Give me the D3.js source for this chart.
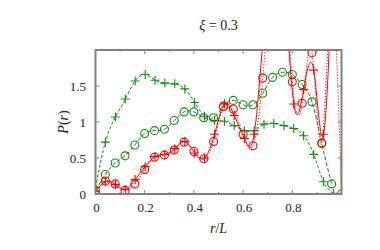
<!DOCTYPE html>
<html><head><meta charset="utf-8">
<script src="https://cdn.jsdelivr.net/npm/d3@7"></script>
<style>body{margin:0;background:#fff}svg{display:block}</style>
</head><body>
<script>
const rCircle = [0,0.04,0.08,0.12,0.16,0.2,0.24,0.28,0.32,0.36,0.4,0.44,0.48,0.52,0.56,0.6,0.64,0.68,0.72,0.76,0.8,0.84,0.88,0.92,0.96,1.0];
const rPlus = [0,0.040,0.081,0.121,0.161,0.202,0.242,0.282,0.322,0.363,0.403,0.443,0.484,0.524,0.564,0.605,0.645,0.685,0.725,0.766,0.806,0.846,0.887,0.927,0.967];
const greenCircle = [0.05,0.27,0.43,0.53,0.68,0.84,0.88,0.90,1.02,1.14,1.14,1.06,1.06,1.22,1.30,1.24,1.24,1.40,1.62,1.69,1.66,1.52,1.28,0.70,0.14];
const greenPlus = [0.09,0.72,1.07,1.32,1.57,1.66,1.58,1.54,1.53,1.46,1.27,1.08,1.02,1.01,0.95,0.88,0.88,0.97,0.98,0.95,0.91,0.81,0.55,0.17,0.01];
const redCircle = [0,0.18,0.14,0.05,0.14,0.34,0.51,0.54,0.61,0.72,0.59,0.49,0.73,1.21,1.18,0.83,0.67,1.61,3.2,3.4,1.56,1.26,1.96,0.71,2.7,0];
const redPlus = [0.04,0.17,0.13,0.06,0.20,0.38,0.52,0.55,0.63,0.73,0.57,0.50,0.83,1.25,1.09,0.77,0.83,2.3,3.3,2.9,1.25,1.45,1.72,0.83,3.5];
const xTickLabels = ["0","0.2","0.4","0.6","0.8"];
const yTickLabels = ["0","0.5","1","1.5"];

const W = 380, H = 250;
const m = {left: 95.5, top: 50, right: 38.5, bottom: 56};
const green = "#118a11", red = "#ff0000", frame = "#808080";
const serif = "Liberation Serif, Times New Roman, DejaVu Serif, serif";

const svg = d3.select("body").append("svg").attr("width", W).attr("height", H)
  .attr("font-family", serif);
const x = d3.scaleLinear().domain([0, 1]).range([m.left, W - m.right]);
const y = d3.scaleLinear().domain([0, 2]).range([H - m.bottom, m.top]);

svg.append("defs").append("clipPath").attr("id", "clip")
  .append("rect").attr("x", m.left).attr("y", m.top)
  .attr("width", x(1) - x(0)).attr("height", y(0) - y(2));

// ticks
const tickG = svg.append("g").attr("stroke", frame).attr("stroke-width", 1);
const xMinor = d3.range(1, 10).map(i => i / 10);
xMinor.forEach(v => {
  const major = Math.abs(v * 5 - Math.round(v * 5)) < 1e-6;
  const len = major ? 4 : 2;
  tickG.append("line").attr("x1", x(v)).attr("x2", x(v)).attr("y1", y(0)).attr("y2", y(0) - len);
  tickG.append("line").attr("x1", x(v)).attr("x2", x(v)).attr("y1", y(2)).attr("y2", y(2) + len);
});
[0.5, 1, 1.5].forEach(v => {
  tickG.append("line").attr("x1", x(0)).attr("x2", x(0) + 4).attr("y1", y(v)).attr("y2", y(v));
  tickG.append("line").attr("x1", x(1)).attr("x2", x(1) - 4).attr("y1", y(v)).attr("y2", y(v));
});

// tick labels
const xTicks = [0, 0.2, 0.4, 0.6, 0.8];
svg.append("g").selectAll("text").data(xTicks).join("text")
  .attr("x", d => x(d) + 1).attr("y", 212)
  .attr("text-anchor", "middle").attr("font-size", 13).attr("fill", "#222")
  .text((d, i) => xTickLabels[i]);
const yTicks = [0, 0.5, 1, 1.5];
svg.append("g").selectAll("text").data(yTicks).join("text")
  .attr("x", 86).attr("y", d => y(d) + 4.5)
  .attr("text-anchor", "end").attr("font-size", 13).attr("fill", "#222")
  .text((d, i) => yTickLabels[i]);

// series
const plot = svg.append("g").attr("clip-path", "url(#clip)");
function drawSeries(rs, vs, color, dash, marker) {
  const pts = rs.map((r, i) => [r, vs[i]]);
  const line = d3.line().x(d => x(d[0])).y(d => y(d[1])).curve(d3.curveNatural);
  plot.append("path").attr("d", line(pts)).attr("fill", "none")
    .attr("stroke", color).attr("stroke-width", 1)
    .attr("stroke-dasharray", dash);
  const g = plot.append("g").attr("stroke", color).attr("fill", "none").attr("stroke-width", 1.1);
  pts.forEach(d => {
    const cx = x(d[0]), cy = y(d[1]);
    if (marker === "circle") {
      g.append("circle").attr("cx", cx).attr("cy", cy).attr("r", 4);
    } else {
      g.append("path").attr("d", `M${cx-4.5},${cy}H${cx+4.5}M${cx},${cy-4.5}V${cy+4.5}`);
    }
  });
}
drawSeries(rCircle.slice(0, greenCircle.length), greenCircle, green, "4,2", "circle");
drawSeries(rPlus, greenPlus, green, "3,2", "plus");
drawSeries(rCircle, redCircle, red, "1.2,1.8", "circle");
drawSeries(rPlus, redPlus, red, null, "plus");

// frame
svg.append("rect").attr("x", x(0)).attr("y", y(2))
  .attr("width", x(1) - x(0)).attr("height", y(0) - y(2))
  .attr("fill", "none").attr("stroke", frame).attr("stroke-width", 2);

// labels
svg.append("text").attr("x", (x(0) + x(1)) / 2).attr("y", 30)
  .attr("text-anchor", "middle").attr("font-size", 14).attr("fill", "#222")
  .html('<tspan font-style="italic">ξ</tspan> = 0.3');
svg.append("text").attr("x", (x(0) + x(1)) / 2).attr("y", 233)
  .attr("text-anchor", "middle").attr("font-size", 14).attr("fill", "#222")
  .html('<tspan font-style="italic">r</tspan>/<tspan font-style="italic">L</tspan>');
svg.append("text").attr("transform", `translate(68,${(y(0) + y(2)) / 2}) rotate(-90)`)
  .attr("text-anchor", "middle").attr("font-size", 14).attr("fill", "#222")
  .html('<tspan font-style="italic">P</tspan>(<tspan font-style="italic">r</tspan>)');
</script>
</body></html>
